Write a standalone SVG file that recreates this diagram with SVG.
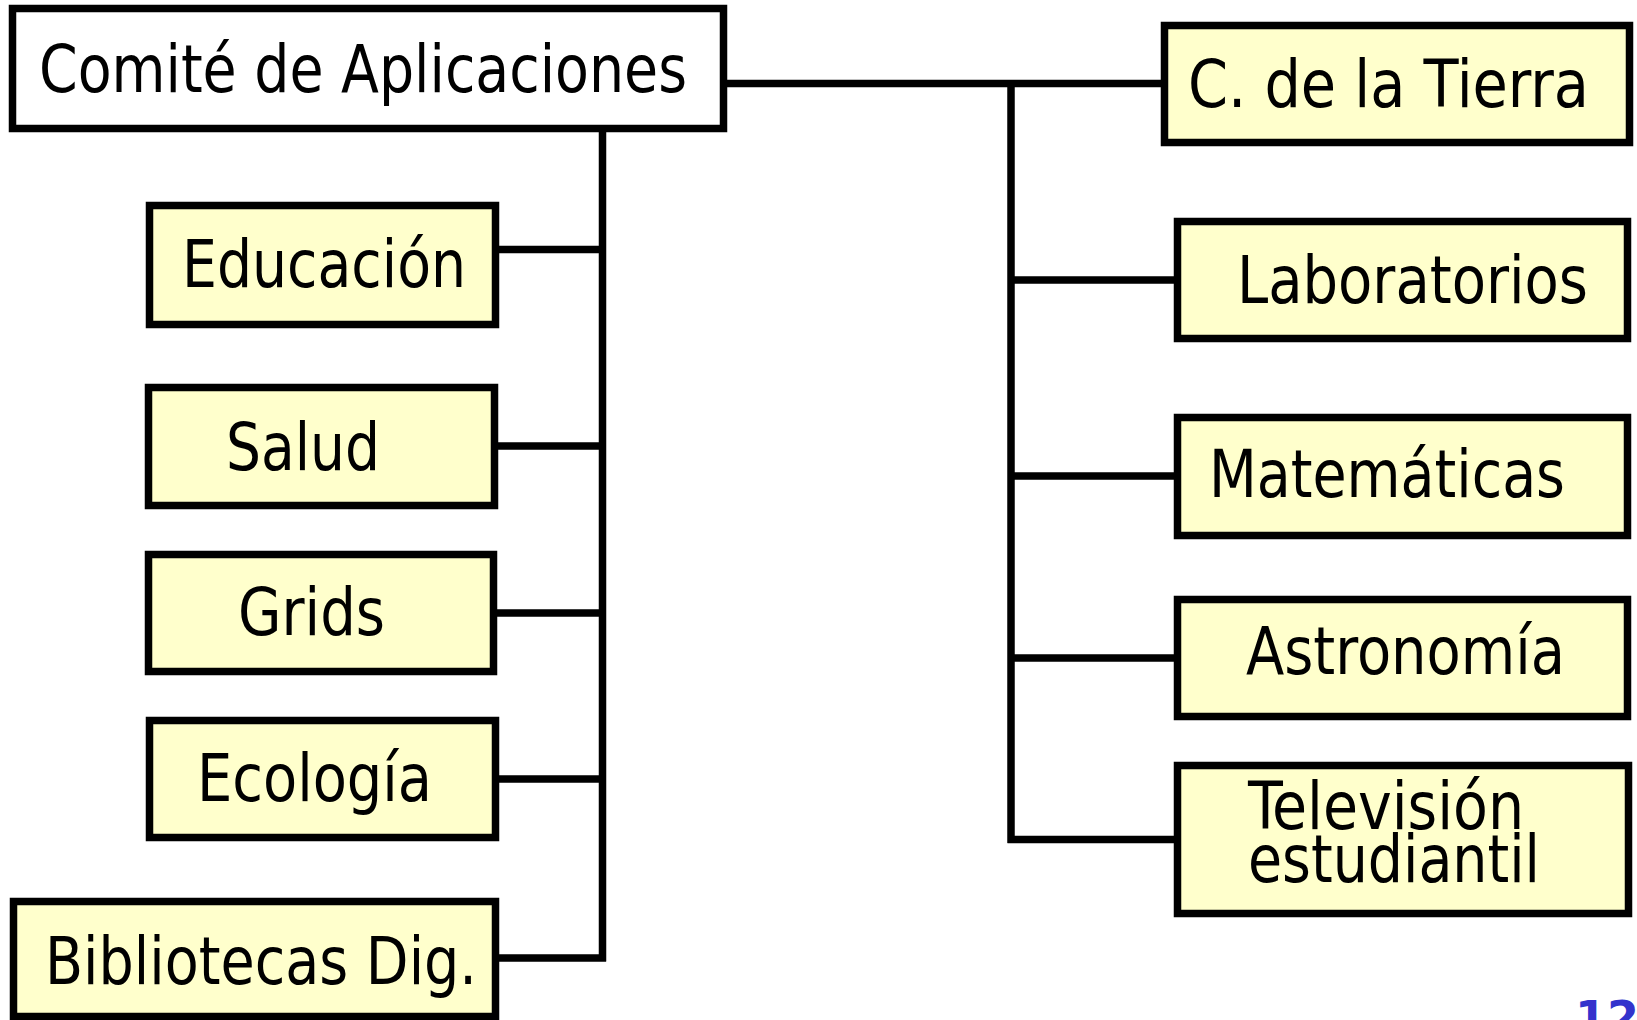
<svg xmlns="http://www.w3.org/2000/svg" width="1637" height="1020" viewBox="0 0 1637 1020">
<style>
.box{fill:#FFFFCC;stroke:#000;stroke-width:7.5}
.root{fill:#FFFFFF;stroke:#000;stroke-width:7.5}
.t{font-family:"DejaVu Sans Condensed","DejaVu Sans",sans-serif;font-size:66px;fill:#000}
.c{fill:none;stroke:#000;stroke-width:7.5}
</style>
<rect width="1637" height="1020" fill="#FFFFFF"/>
<g id="connectors">
<path class="c" d="M602.5 132V961.5M498 249.5H606M497 446H606M496 613H606M498 779H606M498 958H606"/>
<path class="c" d="M727 83.5H1161M1011 80V843M1007.5 280H1174M1007.5 476H1174M1007.5 658H1174M1007.5 839.5H1174"/>
</g>
<g id="n-comite"><rect class="root" x="12.5" y="8.5" width="711" height="120"/><text class="t" x="39" y="92" textLength="648" lengthAdjust="spacingAndGlyphs">Comité de Aplicaciones</text></g>
<g id="n-educacion"><rect class="box" x="149.5" y="205.5" width="346" height="119"/><text class="t" x="182" y="287" textLength="284" lengthAdjust="spacingAndGlyphs">Educación</text></g>
<g id="n-salud"><rect class="box" x="148.5" y="387.5" width="346" height="118"/><text class="t" x="226" y="470" textLength="154" lengthAdjust="spacingAndGlyphs">Salud</text></g>
<g id="n-grids"><rect class="box" x="148.5" y="554.5" width="345" height="117"/><text class="t" x="238" y="635" textLength="147" lengthAdjust="spacingAndGlyphs">Grids</text></g>
<g id="n-ecologia"><rect class="box" x="149.5" y="720.5" width="346" height="117"/><text class="t" x="197" y="801" textLength="235" lengthAdjust="spacingAndGlyphs">Ecología</text></g>
<g id="n-bibliotecas"><rect class="box" x="13.5" y="901.5" width="482" height="115"/><text class="t" x="45" y="984" textLength="432" lengthAdjust="spacingAndGlyphs">Bibliotecas Dig.</text></g>
<g id="n-tierra"><rect class="box" x="1164.5" y="25.5" width="465" height="117"/><text class="t" x="1188" y="107" textLength="401" lengthAdjust="spacingAndGlyphs">C. de la Tierra</text></g>
<g id="n-laboratorios"><rect class="box" x="1177.5" y="221.5" width="450" height="117"/><text class="t" x="1237" y="303" textLength="351" lengthAdjust="spacingAndGlyphs">Laboratorios</text></g>
<g id="n-matematicas"><rect class="box" x="1177.5" y="417.5" width="450" height="118"/><text class="t" x="1209" y="497" textLength="356" lengthAdjust="spacingAndGlyphs">Matemáticas</text></g>
<g id="n-astronomia"><rect class="box" x="1177.5" y="599.5" width="450" height="117"/><text class="t" x="1246" y="674" textLength="319" lengthAdjust="spacingAndGlyphs">Astronomía</text></g>
<g id="n-television"><rect class="box" x="1177.5" y="765.5" width="451" height="148"/><text class="t" x="1248" y="829" textLength="276" lengthAdjust="spacingAndGlyphs">Televisión</text><text class="t" x="1248" y="882" textLength="292" lengthAdjust="spacingAndGlyphs">estudiantil</text></g>
<text x="1575" y="1034" style="font-family:'DejaVu Sans',sans-serif;font-weight:bold;font-size:46px;fill:#3333CC">12</text>
</svg>
